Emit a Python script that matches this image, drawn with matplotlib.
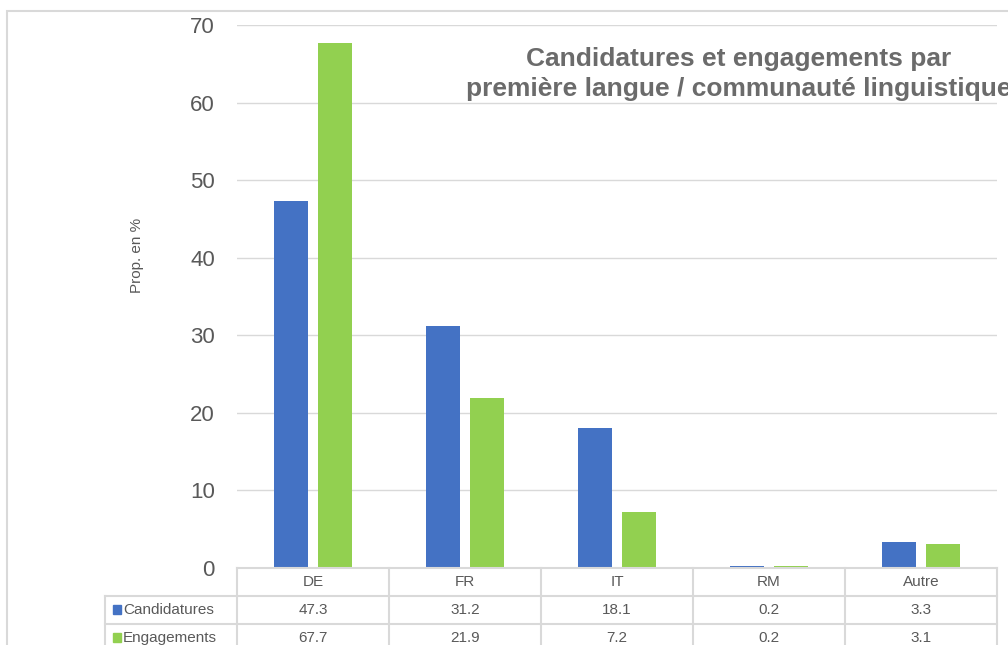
import numpy as np
import matplotlib.pyplot as plt
from matplotlib.patches import Rectangle
from matplotlib.transforms import blended_transform_factory

plt.rcParams['font.family'] = ['Liberation Sans', 'DejaVu Sans']

categories = ['DE', 'FR', 'IT', 'RM', 'Autre']
candidatures = [47.3, 31.2, 18.1, 0.2, 3.3]
engagements = [67.7, 21.9, 7.2, 0.2, 3.1]
series_names = ['Candidatures', 'Engagements']
colors = ['#4472C4', '#92D050']
grey = '#595959'
line_c = '#d9d9d9'

W, H = 1008, 645
fig = plt.figure(figsize=(W / 100, H / 100), dpi=100)

# plot area in pixels
left, right, top, bottom = 237, 997, 25, 568
ax = fig.add_axes([left / W, 1 - bottom / H, (right - left) / W, (bottom - top) / H])

x = np.arange(len(categories))
bw = 0.224
off = 0.142
ax.bar(x - off, candidatures, bw, color=colors[0])
ax.bar(x + off, engagements, bw, color=colors[1])

ax.set_xlim(-0.5, len(categories) - 0.5)
ax.set_ylim(0, 70)
ax.set_yticks(range(0, 71, 10))
ax.tick_params(axis='y', length=0, pad=16, labelsize=16, labelcolor=grey)
ax.set_xticks([])
ax.yaxis.grid(True, color=line_c, lw=1)
ax.set_axisbelow(True)
for s in ax.spines.values():
    s.set_visible(False)
ax.set_ylabel('Prop. en %', fontsize=11, color=grey)
ax.yaxis.set_label_coords((144 - left) / (right - left), (bottom - 255) / (bottom - top))

# frame around the whole chart (cut by the image edges)
fig.patches.append(Rectangle((7 / W, -0.1), 1.1, 1 - 11 / H + 0.1, transform=fig.transFigure,
                             fill=False, ec=line_c, lw=1.5))

# data table below the axis
tr = blended_transform_factory(ax.transData, ax.transAxes)
rh = 28 / (bottom - top)
ph = 1 / (bottom - top)
y_rows = [0, -rh, -2 * rh, -3 * rh]
lx = -0.5 - (left - 105) / ((right - left) / len(categories))

ax.plot([-0.5, len(categories) - 0.5], [0, 0], transform=tr, color=line_c, lw=1.5, clip_on=False)
for yy in y_rows[1:3]:
    ax.plot([lx, len(categories) - 0.5], [yy, yy], transform=tr, color=line_c, lw=1.5, clip_on=False)
for i in range(len(categories) + 1):
    ax.plot([i - 0.5, i - 0.5], [0, y_rows[3]], transform=tr, color=line_c, lw=1.5, clip_on=False)
ax.plot([lx, lx], [y_rows[1], y_rows[3]], transform=tr, color=line_c, lw=1.5, clip_on=False)

for i, c in enumerate(categories):
    ax.text(i, -rh / 2, c, transform=tr, ha='center', va='center', fontsize=11, color=grey)
for r, (vals, name, col) in enumerate(zip([candidatures, engagements], series_names, colors)):
    yc = -rh * (r + 1.5)
    for i, v in enumerate(vals):
        ax.text(i, yc, f'{v:.1f}', transform=tr, ha='center', va='center', fontsize=11, color=grey)
    ax.add_patch(Rectangle((lx + 0.05, yc - 4 * ph), 0.055, 9 * ph, transform=tr,
                           color=col, clip_on=False))
    ax.text(lx + 0.12, yc, name, transform=tr, ha='left', va='center', fontsize=11, color=grey)

fig.text(739 / W, 1 - 74 / H, 'Candidatures et engagements par\npremière langue / communauté linguistique',
         ha='center', va='center', fontsize=19, fontweight='bold', color='#6b6b6b', linespacing=1.35)

fig.savefig('out.png', dpi=100)
